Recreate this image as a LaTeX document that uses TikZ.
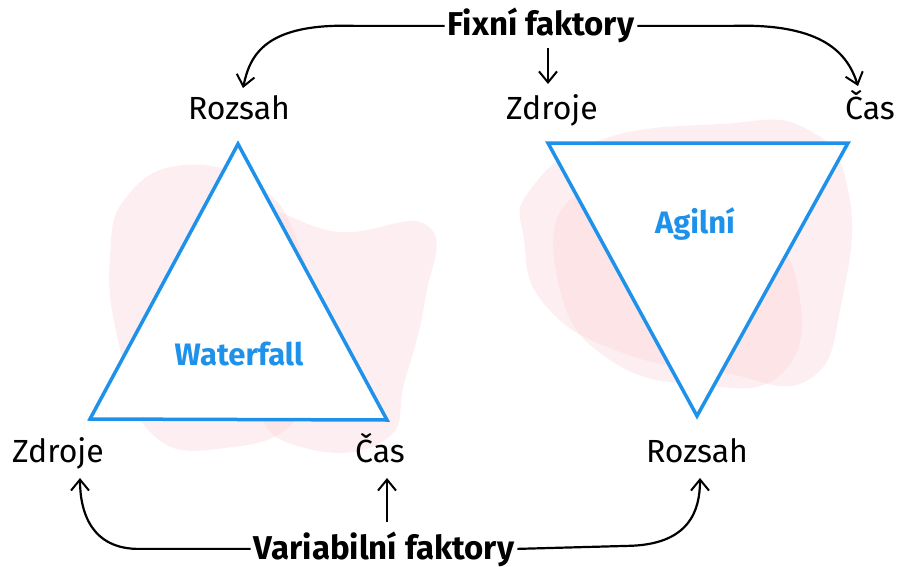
\documentclass[tikz,border=0pt]{standalone}
\usepackage{fontspec}
\setmainfont{Fira Sans}
\usetikzlibrary{arrows.meta}
\definecolor{tblue}{RGB}{30,146,234}
\definecolor{blob}{RGB}{250,205,210}
\tikzset{
  lbl/.style={font=\fontsize{32}{36}\selectfont, text=black, inner sep=1pt, anchor=base},
  head/.style={font=\fontsize{33}{36}\selectfont\bfseries, text=black, inner sep=3pt, anchor=base},
  tname/.style={font=\fontsize{31}{34}\selectfont\bfseries, text=tblue, anchor=base},
  tri/.style={draw=tblue, line width=3.5pt, line join=miter, fill=white},
  conn/.style={draw=black, line width=2.2pt, -{Straight Barb[length=11pt,width=18pt,line width=2pt]}},
  blobs/.style={fill=blob, fill opacity=0.3, draw=none}
}
\begin{document}
\begin{tikzpicture}[x=1pt,y=-1pt]
\useasboundingbox (0,0) rectangle (904,567);
\fill[white] (0,0) rectangle (904,567);
% pink blobs
\fill[blobs] plot[smooth cycle, tension=0.8] coordinates {(128,195) (185,165) (255,185) (295,235) (315,330) (300,415) (225,448) (150,432) (118,340) (110,255)};
\fill[blobs] plot[smooth cycle, tension=0.8] coordinates {(255,215) (340,232) (428,226) (425,300) (405,380) (385,440) (305,448) (255,405) (240,300)};
\fill[blobs] plot[smooth cycle, tension=0.8] coordinates {(530,190) (600,140) (720,124) (805,128) (848,190) (842,300) (808,380) (720,372) (620,352) (545,305) (524,240)};
\fill[blobs] plot[smooth cycle, tension=0.8] coordinates {(570,200) (660,210) (760,230) (800,300) (780,375) (700,385) (610,360) (560,290)};
% triangles
\coordinate (wA) at (238,144);
\coordinate (wB) at (90,419);
\coordinate (wC) at (387,420);
\draw[tri] (wA) -- (wB) -- (wC) -- cycle;
\coordinate (aA) at (548,143);
\coordinate (aB) at (848,143);
\coordinate (aC) at (697,416);
\draw[tri] (aA) -- (aB) -- (aC) -- cycle;
\node[tname] (wf) at (239,365) {Waterfall};
\node[tname] (ag) at (695,233) {Agilní};
% labels
\node[head] (fix) at (541,36) {Fixní faktory};
\node[head] (var) at (384,559) {Variabilní faktory};
\node[lbl] (r1) at (239,120) {Rozsah};
\node[lbl] (z1) at (552,120) {Zdroje};
\node[lbl] (c1) at (870,120) {Čas};
\node[lbl] (z2) at (58,462) {Zdroje};
\node[lbl] (c2) at (380,462) {Čas};
\node[lbl] (r2) at (697,462) {Rozsah};
% connectors
\draw[conn] (fix.west) -- ++(-90,0) .. controls (265,23) and (250,55) .. (243,88);
\draw[conn, line width=1.6pt] (548,48) -- (548,84);
\draw[conn] (fix.east) -- ++(95,0) .. controls (825,23) and (848,55) .. (858,86);
\draw[conn] (var.west) -- ++(-110,0) .. controls (90,550) and (80,510) .. (80,478);
\draw[conn, line width=1.6pt] (387,522) -- (387,478);
\draw[conn] (var.east) -- ++(110,-3) .. controls (690,545) and (700,510) .. (700,478);
\end{tikzpicture}
\end{document}
